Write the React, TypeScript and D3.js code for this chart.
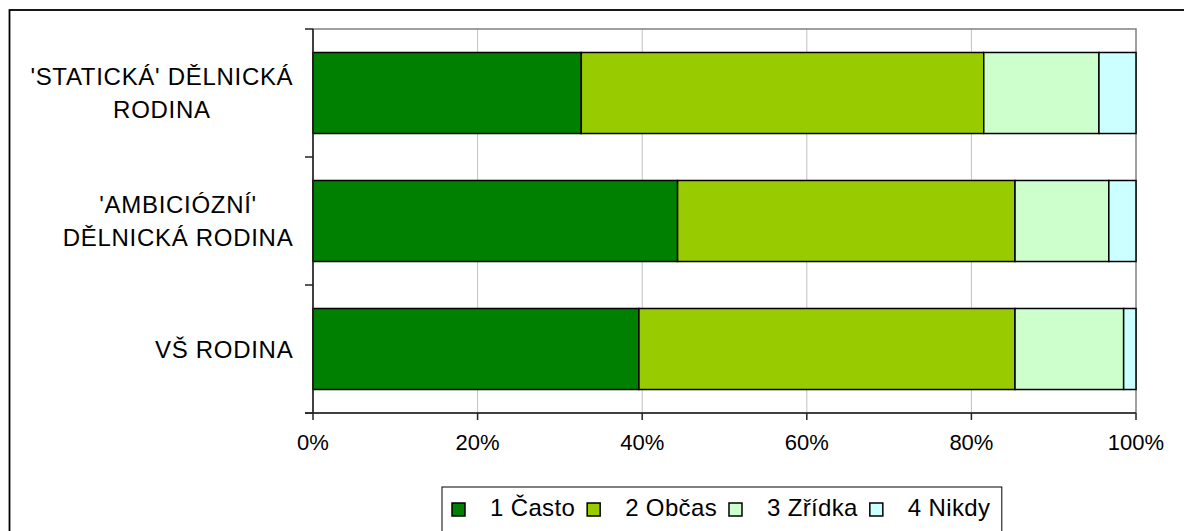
import React from "react";
import { scaleLinear, scaleBand, stack, stackOffsetExpand, range } from "d3";

const categories = ["'STATICKÁ' DĚLNICKÁ RODINA", "'AMBICIÓZNÍ' DĚLNICKÁ RODINA", "VŠ RODINA"];
const categoryLines = [["'STATICKÁ' DĚLNICKÁ", "RODINA"], ["'AMBICIÓZNÍ'", "DĚLNICKÁ RODINA"], ["VŠ RODINA"]];
const seriesNames = ["1 Často", "2 Občas", "3 Zřídka", "4 Nikdy"];
const casto = [32.6, 44.3, 39.6];
const obcas = [48.9, 41.0, 45.7];
const zridka = [14.0, 11.4, 13.2];
const nikdy = [4.5, 3.3, 1.5];
const tickValues = [0, 0.2, 0.4, 0.6, 0.8, 1];

const colors = ["#008000", "#99CC00", "#CCFFCC", "#CCFFFF"];
const font = "Arial, 'Liberation Sans', sans-serif";

const left = 313;
const right = 1136;
const top = 29;
const bottom = 413;

const x = scaleLinear().domain([0, 1]).range([left, right]);
const y = scaleBand().domain(categories).range([top, bottom]).paddingInner(0.367).paddingOuter(0.1835);

const rows = categories.map((c, i) => ({
 cat: c,
 [seriesNames[0]]: casto[i],
 [seriesNames[1]]: obcas[i],
 [seriesNames[2]]: zridka[i],
 [seriesNames[3]]: nikdy[i],
}));
const layers = stack().keys(seriesNames).offset(stackOffsetExpand)(rows as any);

let ctx: CanvasRenderingContext2D | null = null;
// text width incl. letter spacing
const measure = (t: string, size: number, ls = 0) => {
 if (!ctx) ctx = document.createElement("canvas").getContext("2d");
 if (!ctx) return t.length * (size * 0.55 + ls);
 ctx.font = `${size}px ${font}`;
 return ctx.measureText(t).width + t.length * ls;
};

const App = () => {
 const step = y.step();
 const labelSize = 24;
 const labelLs = 0.7;
 const lineGap = 33;

 // legend layout
 const legendSize = 24;
 const legendLs = 0.35;
 let lx = 452;
 const legendItems = seriesNames.map((name, i) => {
  const item = { name, x: lx, color: colors[i] };
  lx += 38 + measure(name, legendSize, legendLs) + 12;
  return item;
 });

 return (
  <svg width={1184} height={531} style={{ position: "absolute", left: 0, top: 0 }} fontFamily={font}>
   <rect x={0} y={0} width={1184} height={531} fill="#fff" />
   <rect x={9.5} y={10} width={1200} height={600} fill="none" stroke="#000" strokeWidth={1.8} />

   {/* grid */}
   {tickValues.slice(1, -1).map((t) => (
    <line key={t} x1={x(t)} x2={x(t)} y1={top} y2={bottom} stroke="#c0c0c0" strokeWidth={1} />
   ))}
   <rect x={left} y={top} width={right - left} height={bottom - top} fill="none" stroke="#808080" strokeWidth={1.5} />

   {/* bars */}
   {layers.map((layer, i) => (
    <g key={layer.key}>
     {layer.map((d: any, j: number) => (
      <rect
       key={j}
       x={x(d[0])}
       y={y(categories[j])}
       width={x(d[1]) - x(d[0])}
       height={y.bandwidth()}
       fill={colors[i]}
       stroke="#000"
       strokeWidth={1.5}
      />
     ))}
    </g>
   ))}

   {/* axes */}
   <line x1={left} x2={left} y1={top} y2={bottom} stroke="#222" strokeWidth={1.5} />
   <line x1={left - 8} x2={right} y1={bottom} y2={bottom} stroke="#222" strokeWidth={1.5} />
   {range(categories.length + 1).map((i) => (
    <line key={i} x1={left - 8} x2={left} y1={top + i * step} y2={top + i * step} stroke="#222" strokeWidth={1.5} />
   ))}
   {tickValues.map((t) => (
    <g key={t}>
     <line x1={x(t)} x2={x(t)} y1={bottom} y2={bottom + 7} stroke="#222" strokeWidth={1.5} />
     <text x={x(t)} y={450} textAnchor="middle" fontSize={22} fill="#000">
      {`${Math.round(t * 100)}%`}
     </text>
    </g>
   ))}

   {/* category labels */}
   {categoryLines.map((lines, i) => {
    const cy = (y(categories[i]) as number) + y.bandwidth() / 2;
    const w = Math.max(...lines.map((l) => measure(l, labelSize, labelLs)));
    const cx = 293 - w / 2 + labelLs / 2;
    const first = cy - ((lines.length - 1) * lineGap) / 2 + 8.5;
    return (
     <text key={i} textAnchor="middle" fontSize={labelSize} letterSpacing={labelLs} fill="#000">
      {lines.map((l, k) => (
       <tspan key={k} x={cx} y={first + k * lineGap}>
        {l}
       </tspan>
      ))}
     </text>
    );
   })}

   {/* legend */}
   <rect x={442} y={487} width={lx - 442 - 0.5} height={80} fill="#fff" stroke="#000" strokeWidth={1} />
   {legendItems.map((it) => (
    <g key={it.name}>
     <rect x={it.x} y={503} width={13} height={13} fill={it.color} stroke="#000" strokeWidth={1.5} />
     <text x={it.x + 38} y={516} fontSize={legendSize} letterSpacing={legendLs} fill="#000">
      {it.name}
     </text>
    </g>
   ))}
  </svg>
 );
};

export default App;
